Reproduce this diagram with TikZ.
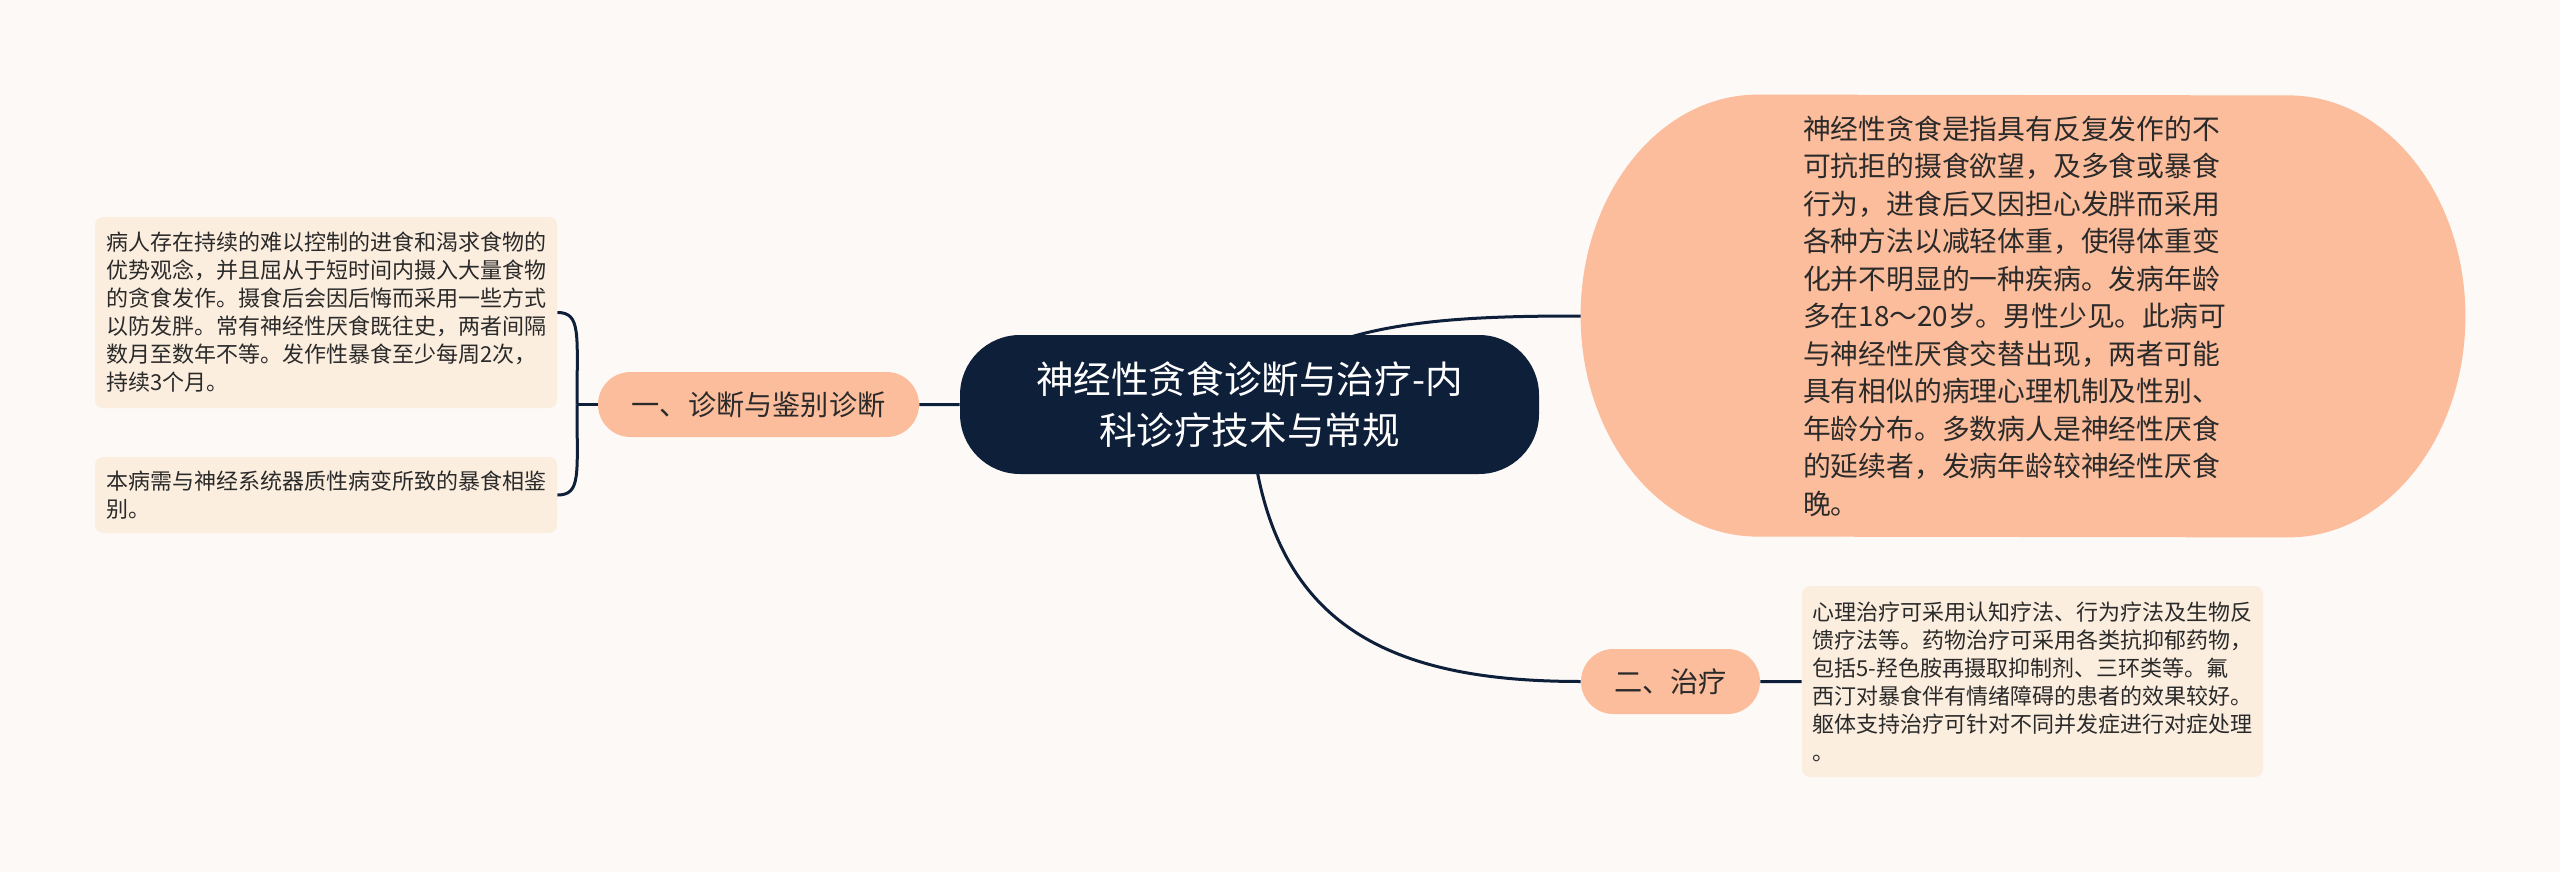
\documentclass[tikz,border=0pt]{standalone}
\usepackage{fontspec}
\setmainfont{Noto Sans CJK SC}
\usepackage{xcolor}
\usepackage{tikz}
\usetikzlibrary{shapes.misc, positioning}

\definecolor{pagebg}{HTML}{FCF9F7}
\definecolor{navy}{HTML}{0E1F3A}
\definecolor{peach}{HTML}{FCBD9C}
\definecolor{cream}{HTML}{FCEEDF}
\definecolor{ink}{HTML}{2A2A2A}

\pgfdeclarelayer{back}
\pgfdeclarelayer{mid}
\pgfsetlayers{back,mid,main}

\tikzset{
  link/.style={draw=navy, line width=1.5pt},
  rootbox/.style={fill=navy, text=white, rounded corners=30pt, minimum width=289.5pt,
    minimum height=69.5pt, align=center, inner sep=0pt, font=\fontsize{18.8pt}{25.5pt}\selectfont},
  branchbox/.style={rounded rectangle, fill=peach, text=ink, minimum height=32.5pt,
    inner xsep=0pt, font=\fontsize{14.1pt}{17pt}\selectfont},
  leafbox/.style={fill=cream, text=ink, rounded corners=4pt, align=left, inner sep=0pt,
    minimum width=231pt, font=\fontsize{11pt}{14pt}\selectfont},
}

\begin{document}
\begin{tikzpicture}[x=0.5pt, y=-0.5pt]

    \begin{pgfonlayer}{back}
      \fill[pagebg] (0,0) rectangle (2560,872);
    \end{pgfonlayer}
    \useasboundingbox (0,0) rectangle (2560,872);


    \node[rootbox] (ctr) at (1249.5,404.5) {神经性贪食诊断与治疗-内\\科诊疗技术与常规};

    \node[branchbox, minimum width=160.5pt] (diag) at (758.5,404.5) {一、诊断与鉴别诊断};
    \node[branchbox, minimum width=89.5pt] (treat) at (1670.5,681.5) {二、治疗};


    \node[text=ink, text width=220pt, align=left, inner xsep=111pt, inner ysep=0pt, minimum height=221pt,
      font=\fontsize{13.9pt}{18.75pt}\selectfont] (def) at (2023,316)
      {神经性贪食是指具有反复发作的不\\可抗拒的摄食欲望，及多食或暴食\\行为，进食后又因担心发胖而采用\\各种方法以减轻体重，使得体重变\\化并不明显的一种疾病。发病年龄\\多在18～20岁。男性少见。此病可\\与神经性厌食交替出现，两者可能\\具有相似的病理心理机制及性别、\\年龄分布。多数病人是神经性厌食\\的延续者，发病年龄较神经性厌食\\晚。};


    \node[leafbox, minimum height=95.5pt] (symp) at (326,312.5)
      {病人存在持续的难以控制的进食和渴求食物的\\优势观念，并且屈从于短时间内摄入大量食物\\的贪食发作。摄食后会因后悔而采用一些方式\\以防发胖。常有神经性厌食既往史，两者间隔\\数月至数年不等。发作性暴食至少每周2次，\\持续3个月。};
    \node[leafbox, minimum height=38pt] (diff) at (326,495)
      {本病需与神经系统器质性病变所致的暴食相鉴\\别。};
    \node[leafbox, minimum width=230.5pt, minimum height=95.5pt] (ther) at (2032.5,681.5)
      {心理治疗可采用认知疗法、行为疗法及生物反\\馈疗法等。药物治疗可采用各类抗抑郁药物，\\包括5-羟色胺再摄取抑制剂、三环类等。氟\\西汀对暴食伴有情绪障碍的患者的效果较好。\\躯体支持治疗可针对不同并发症进行对症处理\\。};

    \coordinate (fork) at (577,404.5);


    \begin{pgfonlayer}{mid}
      \fill[peach] ([xshift=88.5pt]def.north west)
        arc[start angle=90, end angle=270, x radius=88.5pt, y radius=110.5pt]
        -- ([xshift=-88.5pt]def.south east)
        arc[start angle=270, end angle=450, x radius=88.5pt, y radius=110.5pt] -- cycle;

      \draw[link] (ctr.center) .. controls +(51,-84) and +(-131,0) .. (def.west);
      \draw[link] (ctr.center) .. controls +(11,216) and +(-201,0) .. (treat.west);
      \draw[link] (ctr) -- (diag);
      \draw[link] (treat) -- (ther);
      \draw[link] (diag.west) -- (fork);
      \draw[link] (fork) .. controls +(0,-70) and +(24,0) .. (symp.east);
      \draw[link] (fork) .. controls +(0,70) and +(24,0) .. (diff.east);
    \end{pgfonlayer}
\end{tikzpicture}
\end{document}
